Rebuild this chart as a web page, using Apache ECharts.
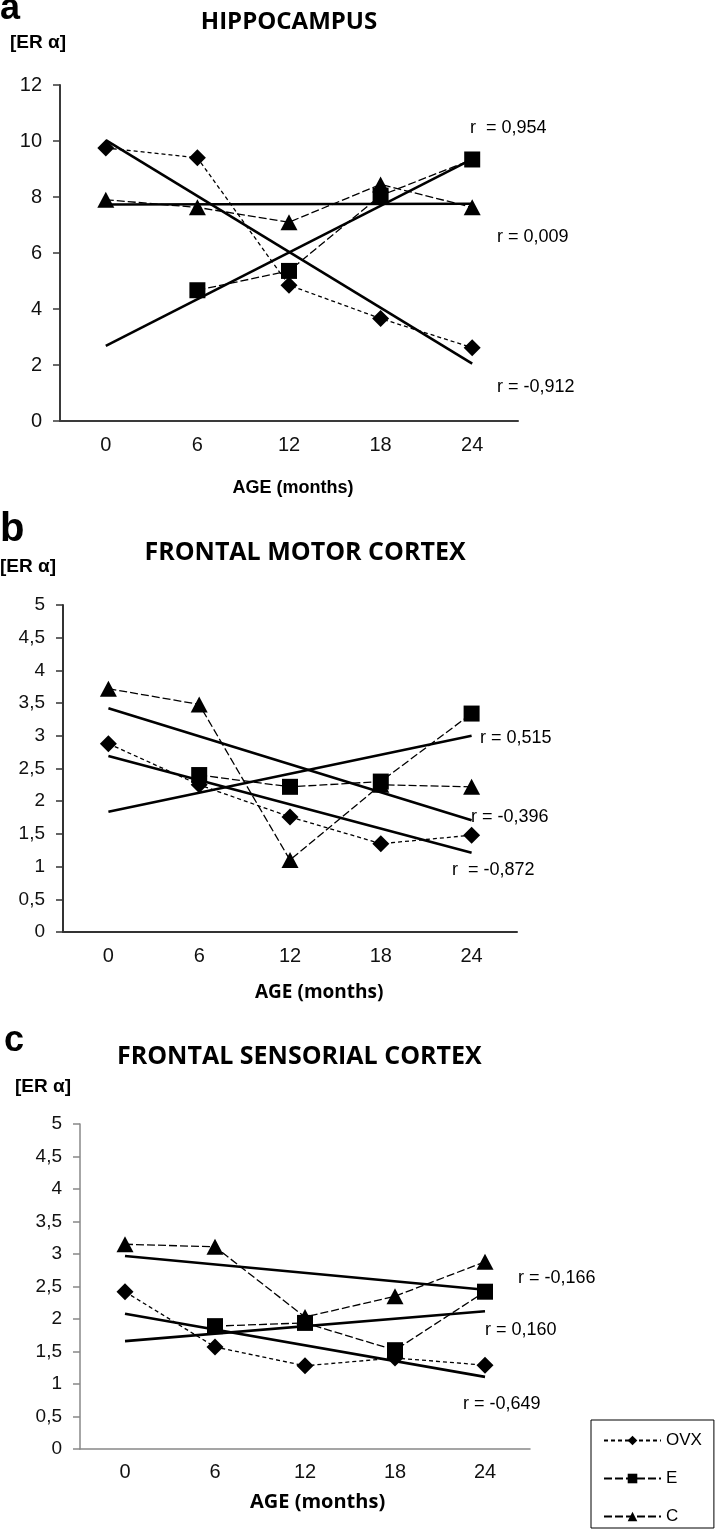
<!DOCTYPE html>
<html>
<head>
<meta charset="utf-8">
<script src="https://cdn.jsdelivr.net/npm/echarts@6/dist/echarts.min.js"></script>
<style>
html,body{margin:0;padding:0;background:#fff;}
#chart{width:717px;height:1537px;}
</style>
</head>
<body>
<div id="chart"></div>
<script>
// ---- data ----
const categories = ['0', '6', '12', '18', '24'];

// a: hippocampus
const hipOVX = [9.75, 9.4, 4.85, 3.66, 2.62];
const hipE   = [null, 4.67, 5.36, 8.05, 9.34];
const hipC   = [7.9, 7.63, 7.1, 8.45, 7.63];
const hipFitOVX = [10.03, null, null, null, 2.05];
const hipFitE   = [2.68, null, null, null, 9.35];
const hipFitC   = [7.73, null, null, null, 7.76];
const hipR = ['r  = 0,954', 'r = 0,009', 'r = -0,912'];

// b: frontal motor cortex
const motOVX = [2.88, 2.25, 1.76, 1.35, 1.48];
const motE   = [null, 2.4, 2.22, 2.3, 3.34];
const motC   = [3.72, 3.48, 1.10, 2.25, 2.22];
const motFitOVX = [2.69, null, null, null, 1.21];
const motFitE   = [1.84, null, null, null, 3.0];
const motFitC   = [3.42, null, null, null, 1.71];
const motR = ['r = 0,515', 'r = -0,396', 'r  = -0,872'];

// c: frontal sensorial cortex
const senOVX = [2.42, 1.57, 1.28, 1.40, 1.29];
const senE   = [null, 1.89, 1.94, 1.52, 2.42];
const senC   = [3.15, 3.11, 2.03, 2.35, 2.88];
const senFitOVX = [2.08, null, null, null, 1.11];
const senFitE   = [1.66, null, null, null, 2.12];
const senFitC   = [2.97, null, null, null, 2.45];
const senR = ['r = -0,166', 'r = 0,160', 'r = -0,649'];

const yTicksA = {min: 0, max: 12, interval: 2};
const yTicksBC = {min: 0, max: 5, interval: 0.5};

// ---- styling ----
const SANS = '"Liberation Sans", Arial, sans-serif';
const TITLE = '"Open Sans", sans-serif';
const axisColors = ['#3a3a3a', '#333', '#888'];

function xAxis(gi) {
  return {
    type: 'category', gridIndex: gi, data: categories, boundaryGap: true,
    axisLine: {lineStyle: {color: axisColors[gi], width: gi === 2 ? 1.5 : 2}},
    axisTick: {length: 7, lineStyle: {color: axisColors[gi], width: 1.5}},
    axisLabel: {fontSize: 20, fontFamily: SANS, color: '#111', margin: gi === 2 ? 13 : 14},
    splitLine: {show: false}
  };
}
function yAxis(gi, t) {
  return {
    type: 'value', gridIndex: gi, min: t.min, max: t.max, interval: t.interval,
    axisLine: {show: true, lineStyle: {color: axisColors[gi], width: gi === 2 ? 1.5 : 2}},
    axisTick: {show: true, length: 7, lineStyle: {color: axisColors[gi], width: 1.5}},
    axisLabel: {fontSize: gi === 0 ? 20 : 19, fontFamily: SANS, color: '#111', margin: 18,
      formatter: v => String(v).replace('.', ',')},
    splitLine: {show: false}
  };
}
function grp(gi, name, data, symbol, size, dash) {
  return {
    type: 'line', name: name, xAxisIndex: gi, yAxisIndex: gi, data: data,
    symbol: symbol, symbolSize: size, showAllSymbol: true,
    lineStyle: {color: '#000', width: 1.3, type: dash},
    itemStyle: {color: '#000'}, z: 4
  };
}
function fit(gi, data) {
  return {
    type: 'line', name: 'fit' + gi, xAxisIndex: gi, yAxisIndex: gi, data: data,
    connectNulls: true, symbol: 'none', silent: true,
    lineStyle: {color: '#000', width: 2.6, type: 'solid'}, z: 3
  };
}
const OVXdash = [4, 3], Edash = [8, 3], Cdash = [8, 3];

const series = [];
[[hipOVX, hipE, hipC, hipFitOVX, hipFitE, hipFitC],
 [motOVX, motE, motC, motFitOVX, motFitE, motFitC],
 [senOVX, senE, senC, senFitOVX, senFitE, senFitC]].forEach((d, gi) => {
  series.push(fit(gi, d[3]), fit(gi, d[4]), fit(gi, d[5]));
  series.push(grp(gi, 'OVX', d[0], 'diamond', [17, 17], OVXdash));
  series.push(grp(gi, 'E', d[1], 'rect', 16, Edash));
  series.push(grp(gi, 'C', d[2], 'triangle', [17, 16], Cdash));
});

function txt(x, y, text, font, align) {
  return {type: 'text', x: x, y: y, silent: true,
    style: {text: text, font: font, fill: '#000', align: align || 'left', verticalAlign: 'middle',
      textAlign: align || 'left', textVerticalAlign: 'middle'}};
}
const rFont = '18px ' + SANS;
const graphic = [
  txt(0, 9, 'a', 'bold 36px ' + SANS),
  txt(10, 43, '[ER α]', 'bold 19px ' + SANS),
  txt(289, 22, 'HIPPOCAMPUS', 'bold 24px ' + TITLE, 'center'),
  txt(470, 128, hipR[0], rFont),
  txt(497, 237, hipR[1], rFont),
  txt(497, 387, hipR[2], rFont),
  txt(293, 488, 'AGE (months)', 'bold 18px ' + SANS, 'center'),

  txt(0, 530, 'b', 'bold 40px ' + SANS),
  txt(0, 567, '[ER α]', 'bold 19px ' + SANS),
  txt(305, 553, 'FRONTAL MOTOR CORTEX', 'bold 25px ' + TITLE, 'center'),
  txt(480, 738, motR[0], rFont),
  txt(471, 817, motR[1], rFont),
  txt(452, 870, motR[2], rFont),
  txt(255, 993, 'AGE (months)', 'bold 19px ' + TITLE),

  txt(4, 1041, 'c', 'bold 36px ' + SANS),
  txt(15, 1087, '[ER α]', 'bold 19px ' + SANS),
  txt(117, 1057, 'FRONTAL SENSORIAL CORTEX', 'bold 25px ' + TITLE),
  txt(518, 1278, senR[0], rFont),
  txt(485, 1330, senR[1], rFont),
  txt(463, 1404, senR[2], rFont),
  txt(250, 1502, 'AGE (months)', 'bold 20px ' + TITLE)
];

const chart = echarts.init(document.getElementById('chart'), null, {renderer: 'canvas'});
chart.setOption({
  animation: false,
  backgroundColor: '#fff',
  grid: [
    {left: 60, top: 85, width: 458, height: 336},
    {left: 63, top: 605, width: 454, height: 327},
    {left: 80, top: 1124, width: 450, height: 325}
  ],
  xAxis: [xAxis(0), xAxis(1), xAxis(2)],
  yAxis: [yAxis(0, yTicksA), yAxis(1, yTicksBC), yAxis(2, yTicksBC)],
  legend: {
    data: ['OVX', 'E', 'C'], orient: 'vertical', left: 591, top: 1420,
    padding: [12, 12, 3, 12], itemGap: 21, itemWidth: 57, itemHeight: 12,
    borderColor: '#000', borderWidth: 1, borderRadius: 0,
    textStyle: {fontSize: 17, fontFamily: SANS, color: '#000'},
    selectedMode: false
  },
  graphic: graphic,
  series: series
});
</script>
</body>
</html>
